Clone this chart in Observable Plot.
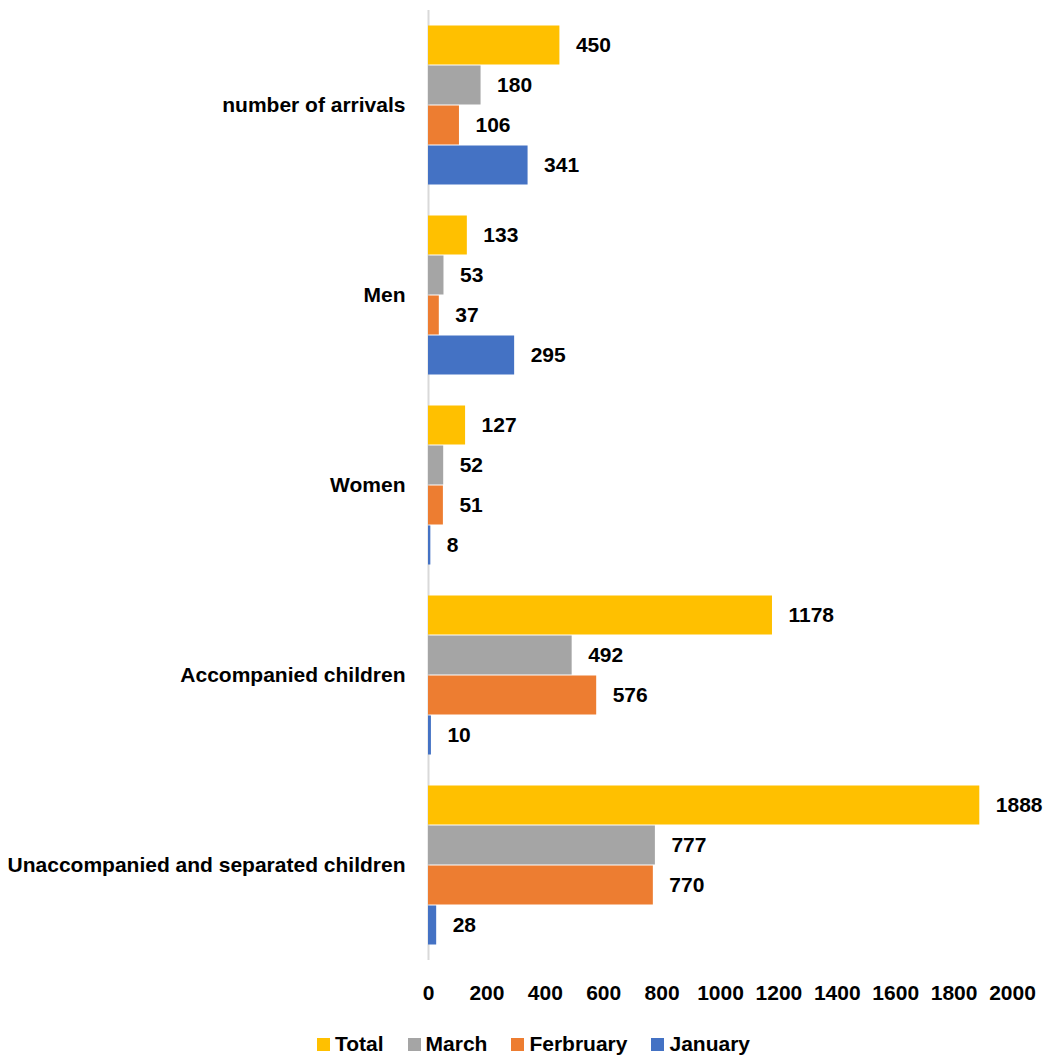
<!DOCTYPE html>
<html>
<head>
<meta charset="utf-8">
<script src="https://cdn.jsdelivr.net/npm/d3@7"></script>
<script src="https://cdn.jsdelivr.net/npm/@observablehq/plot@0.6"></script>
<style>
  body { margin: 0; background: #fff; font-family: 'Liberation Sans', Arial, sans-serif; }
  #legend { display: flex; justify-content: center; gap: 24px; padding-left: 20px; margin-top: 17px; font-weight: bold; font-size: 21px; color: #000; }
  #legend .item { display: flex; align-items: center; gap: 5px; }
  #legend .sw { width: 13px; height: 13px; display: inline-block; }
</style>
</head>
<body>
<div id="chart"></div>
<div id="legend"></div>
<script>
const categories = ["number of arrivals", "Men", "Women", "Accompanied children", "Unaccompanied and separated children"];
const series = ["Total", "March", "Ferbruary", "January"];
const colors = ["#FFC000", "#A5A5A5", "#ED7D31", "#4472C4"];
const totalValues = [450, 133, 127, 1178, 1888];
const marchValues = [180, 53, 52, 492, 777];
const februaryValues = [106, 37, 51, 576, 770];
const januaryValues = [341, 295, 8, 10, 28];
const xTicks = [0, 200, 400, 600, 800, 1000, 1200, 1400, 1600, 1800, 2000];

const seriesValues = [totalValues, marchValues, februaryValues, januaryValues];
const rows = [];
categories.forEach((c, i) => series.forEach((s, j) => rows.push({category: c, series: s, value: seriesValues[j][i]})));

const chart = Plot.plot({
  width: 1047,
  height: 1015,
  marginLeft: 428,
  marginRight: 35,
  marginTop: 10,
  marginBottom: 55,
  style: {fontFamily: "'Liberation Sans', Arial, sans-serif", fontSize: "21px", fontWeight: "bold", color: "#000", background: "#fff"},
  x: {domain: [0, 2000], ticks: xTicks, tickSize: 0, tickPadding: 25, label: null, tickFormat: d => String(d)},
  y: {domain: series, axis: null, paddingInner: 0, paddingOuter: 0.375},
  fy: {domain: categories, padding: 0, axis: "left", tickSize: 0, tickPadding: 23, label: null},
  color: {domain: series, range: colors},
  marks: [
    Plot.ruleX([0], {stroke: "#d9d9d9", strokeWidth: 2}),
    Plot.barX(rows, {fy: "category", y: "series", x: "value", fill: "series", insetTop: 0.5, insetBottom: 0.5}),
    Plot.text(rows, {fy: "category", y: "series", x: "value", text: d => String(d.value), textAnchor: "start", dx: 16, fill: "#000"})
  ]
});
document.getElementById("chart").appendChild(chart);

const legend = document.getElementById("legend");
series.forEach((s, i) => {
  const item = document.createElement("div");
  item.className = "item";
  const sw = document.createElement("span");
  sw.className = "sw";
  sw.style.background = colors[i];
  const label = document.createElement("span");
  label.textContent = s;
  item.appendChild(sw);
  item.appendChild(label);
  legend.appendChild(item);
});
</script>
</body>
</html>
